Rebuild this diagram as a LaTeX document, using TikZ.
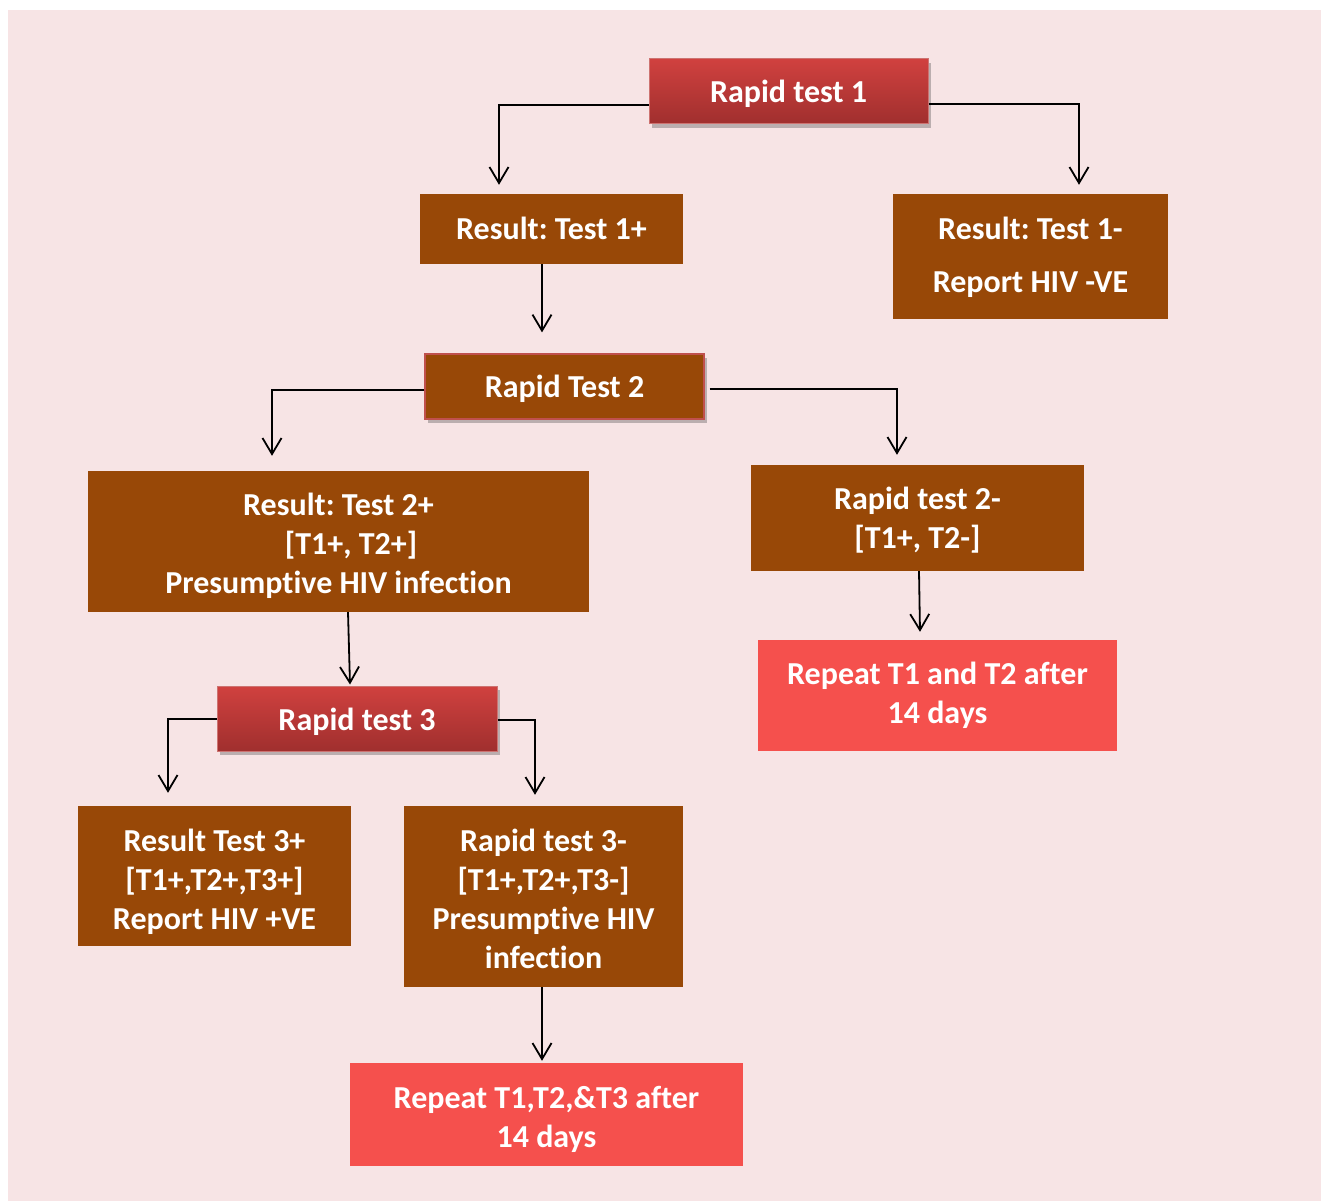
\documentclass[tikz,border=0pt]{standalone}
\usepackage{fontspec}
\setmainfont{Carlito}[Ligatures=NoCommon]
\frenchspacing
\usetikzlibrary{arrows.meta,shadows}
\definecolor{bg}{HTML}{F7E4E5}
\definecolor{brownbox}{HTML}{984807}
\definecolor{redtop}{HTML}{D0413F}
\definecolor{redbot}{HTML}{A02F2E}
\definecolor{redline}{HTML}{C0504D}
\definecolor{repeatred}{HTML}{F5504D}
\tikzset{
  lab/.style={text=white, align=center, inner sep=0pt, yshift=-3pt,
    font=\bfseries\fontsize{32}{39}\selectfont},
  box/.style={rectangle, inner sep=0pt},
  brown/.style={box, fill=brownbox},
  brownshadow/.style={box, fill=brownbox, draw=redline, line width=1.2pt,
    drop shadow={shadow xshift=3pt, shadow yshift=-4pt, opacity=0.35, fill=black!70}},
  redgrad/.style={box, top color=redtop, bottom color=redbot, draw=redline!80, line width=1pt,
    drop shadow={shadow xshift=3pt, shadow yshift=-4pt, opacity=0.35, fill=black!70}},
  repeatbox/.style={box, fill=repeatred},
  arr/.style={draw=black, line width=1.8pt, -{Straight Barb[length=16pt,width=19pt]}}
}
\begin{document}
\begin{tikzpicture}[x=1pt,y=-1pt]
\useasboundingbox (0,0) rectangle (1321,1201);
\fill[bg] (8,10) rectangle (1321,1201);

\node[redgrad, minimum width=279pt, minimum height=65pt,
  label={[lab, yshift=1pt]center:Rapid test 1}] (rt1) at (788.5,91.5) {};
\node[brown, minimum width=263pt, minimum height=70pt,
  label={[lab, yshift=4pt]center:Result: Test 1+}] (r1p) at (551.5,229) {};
\node[brown, minimum width=275pt, minimum height=125pt,
  label={[lab, yshift=2.5pt, font=\bfseries\fontsize{32}{53}\selectfont]center:Result: Test 1-\\Report HIV -VE}] (r1n) at (1030.5,256.5) {};
\node[brownshadow, minimum width=279pt, minimum height=65pt,
  label={[lab, yshift=1pt]center:Rapid Test 2}] (rt2) at (564.5,386.5) {};
\node[brown, minimum width=501pt, minimum height=141pt,
  label={[lab, yshift=-1pt]center:Result: Test 2+\\\hspace*{25pt}[T1+, T2+]\\Presumptive HIV infection}] (r2p) at (338.5,541.5) {};
\node[brown, minimum width=333pt, minimum height=106pt,
  label={[lab, yshift=1pt]center:Rapid test 2-\\{}[T1+, T2-]}] (r2n) at (917.5,518) {};
\node[repeatbox, minimum width=359pt, minimum height=111pt,
  label={[lab, yshift=3pt]center:Repeat T1 and T2 after\\14 days}] (rep1) at (937.5,695.5) {};
\node[redgrad, minimum width=280pt, minimum height=65pt,
  label={[lab]center:Rapid test 3}] (rt3) at (357,718.5) {};
\node[brown, minimum width=273pt, minimum height=140pt,
  label={[lab, yshift=-3pt]center:Result Test 3+\\{}[T1+,T2+,T3+]\\Report HIV +VE}] (r3p) at (214.5,876) {};
\node[brown, minimum width=279pt, minimum height=181pt,
  label={[lab, yshift=1pt]center:Rapid test 3-\\{}[T1+,T2+,T3-]\\Presumptive HIV\\infection}] (r3n) at (543.5,896.5) {};
\node[repeatbox, minimum width=393pt, minimum height=103pt,
  label={[lab, yshift=-2pt]center:Repeat T1,T2,\&T3 after\\14 days}] (rep2) at (546.5,1114.5) {};

\draw[arr] ([yshift=-13.5pt]rt1.west) -| ([xshift=-52.5pt,yshift=9pt]r1p.north);
\draw[arr] ([yshift=-12.5pt]rt1.east) -| ([xshift=48.5pt,yshift=9pt]r1n.north);
\draw[arr] ([xshift=-9.5pt]r1p.south) -- ([xshift=-22.5pt,yshift=21pt]rt2.north);
\draw[arr] ([yshift=-3.5pt]rt2.west) -| ([xshift=-66.5pt,yshift=15pt]r2p.north);
\draw[arr] ([xshift=5pt,yshift=-2.5pt]rt2.east) -| ([xshift=-20.5pt,yshift=10pt]r2n.north);
\draw[arr] ([xshift=9.5pt]r2p.south) -- ([xshift=-7pt,yshift=1pt]rt3.north);
\draw[arr] ([xshift=1.5pt]r2n.south) -- ([xshift=-17.5pt,yshift=8pt]rep1.north);
\draw[arr] ([yshift=-0.5pt]rt3.west) -| ([xshift=-46.5pt,yshift=13pt]r3p.north);
\draw[arr] ([yshift=-1.5pt]rt3.east) -| ([xshift=-8.5pt,yshift=11pt]r3n.north);
\draw[arr] ([xshift=-1.5pt]r3n.south) -- ([xshift=-4.5pt,yshift=2pt]rep2.north);
\end{tikzpicture}
\end{document}
